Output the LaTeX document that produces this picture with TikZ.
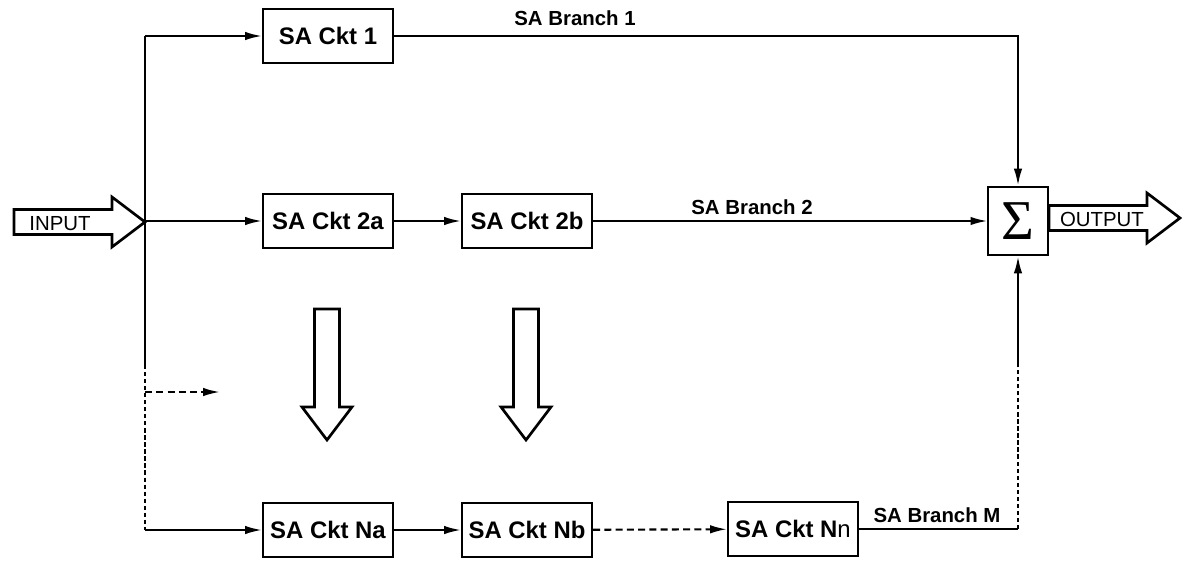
\documentclass[tikz,border=0pt]{standalone}
\usepackage{fontspec}
\setmainfont{Liberation Sans}
\newfontfamily\sigmafont{Liberation Serif}
\usetikzlibrary{arrows.meta}
\tikzset{
   cktbox/.style={draw, line width=1.4pt, minimum width=3.25cm, minimum height=1.37cm,
      font=\fontsize{17}{20}\selectfont\bfseries},
   sumbox/.style={draw, line width=1.4pt, minimum width=1.48cm, minimum height=1.72cm},
   branch/.style={font=\fontsize{14.5}{16}\selectfont\bfseries},
   port/.style={font=\fontsize{14.5}{16}\selectfont},
   wire/.style={line width=1.5pt},
   sig/.style={wire, -{Latex[length=12pt,width=6pt]}},
   hollow/.pic={\draw[line width=1.9pt, fill=white, miter limit=10]
      (0,0) -- (-33,-25) -- (-33,-12.5) -- (-131,-12.5) -- (-131,12.5)
      -- (-33,12.5) -- (-33,25) -- cycle;},
}
\begin{document}
\begin{tikzpicture}[x=0.025cm, y=-0.025cm]
   \useasboundingbox (0,0) rectangle (1185,560);
   % circuits
   \node[cktbox] (ckt1) at (328,36) {SA Ckt 1};
   \node[cktbox] (ckt2a) at (328,221) {SA Ckt 2a};
   \node[cktbox] (ckt2b) at (527,221) {SA Ckt 2b};
   \node[cktbox] (cktNa) at (328,530) {SA Ckt Na};
   \node[cktbox] (cktNb) at (527,530) {SA Ckt Nb};
   \node[cktbox] (cktNn) at (793,529) {SA Ckt N\textmd{n}};
   \node[sumbox] (sum) at (1018,221) {\sigmafont\fontsize{40}{42}\selectfont Σ};
   % input bus
   \coordinate (bustop) at (145,36);
   \coordinate (busin) at (145,221);
   \coordinate (busdash) at (145,365);
   \coordinate (busbot) at (145,530);
   \coordinate (stubfrom) at (145,392);
   \coordinate (stubto) at (220,392);
   \draw[wire] (bustop) -- (busdash);
   \draw[wire, dash pattern=on 3pt off 2pt] (busdash) -- (busbot);
   \draw[sig] (bustop) -- (ckt1.west);
   \draw[sig] (busin) -- (ckt2a.west);
   \draw[sig] (busbot) -- (cktNa.west);
   \draw[sig, dash pattern=on 5pt off 3pt] (stubfrom) -- (stubto);
   % branches
   \draw[sig] (ckt2a) -- (ckt2b);
   \draw[sig] (cktNa) -- (cktNb);
   \draw[sig, dash pattern=on 5pt off 3pt] (cktNb) -- (cktNn);
   \draw[sig] (ckt1.east) -| (sum.north);
   \draw[sig] (ckt2b.east) -- (sum.west);
   \coordinate (mcorner) at (1018,529);
   \coordinate (mdash) at (1018,363);
   \draw[wire] (cktNn.east) -- (mcorner);
   \draw[wire, dash pattern=on 3pt off 2pt] (mcorner) -- (mdash);
   \draw[sig] (mdash) -- (sum.south);
   \node[branch] (br1) at (575,18) {SA Branch 1};
   \node[branch] (br2) at (752,207) {SA Branch 2};
   \node[branch] (brM) at (937,515) {SA Branch M};
   % big arrows
   \pic at (145,222) {hollow};
   \pic at (1180,218) {hollow};
   \pic[rotate=-90] at (327,440) {hollow};
   \pic[rotate=-90] at (526,440) {hollow};
   \node[port] (input) at (60,224) {INPUT};
   \node[port] (output) at (1102,219) {OUTPUT};
\end{tikzpicture}
\end{document}
